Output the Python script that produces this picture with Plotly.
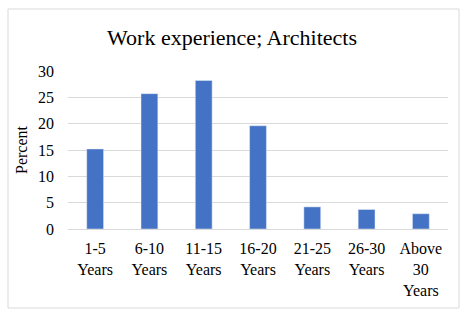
import plotly.graph_objects as go

categories = ["1-5<br>Years", "6-10<br>Years", "11-15<br>Years", "16-20<br>Years",
              "21-25<br>Years", "26-30<br>Years", "Above<br>30<br>Years"]
percent = [15.2, 25.7, 28.2, 19.6, 4.2, 3.7, 2.9]
y_ticks = [0, 5, 10, 15, 20, 25, 30]

font_family = "Liberation Serif, Times New Roman, serif"

fig = go.Figure(go.Bar(x=categories, y=percent, marker_color="#4472C4", width=0.31))

L, R, T, B = 68, 19, 71, 90
W, H = 467, 319
pw, ph = W - L - R, H - T - B

fig.update_layout(
    width=W, height=H,
    margin=dict(l=L, r=R, t=T, b=B, autoexpand=False),
    paper_bgcolor="white", plot_bgcolor="white",
    font=dict(family=font_family, color="black", size=16),
    title=dict(text="Work experience; Architects", x=232 / W, xanchor="center",
               y=1 - 37 / H, yanchor="middle", font=dict(size=22, family=font_family)),
    showlegend=False,
    xaxis=dict(showgrid=False, showline=False, ticks="", tickfont=dict(size=16),
               tickangle=0, ticklabelstandoff=8, automargin=False),
    yaxis=dict(range=[0, 30], tickvals=y_ticks, showgrid=True, gridcolor="#d9d9d9",
               gridwidth=1, zeroline=True, zerolinecolor="#d9d9d9", zerolinewidth=1,
               tickfont=dict(size=16), ticks="", ticklabelstandoff=13, automargin=False,
               title=dict(text="Percent", font=dict(size=16), standoff=6)),
    shapes=[dict(type="rect", xref="paper", yref="paper",
                 x0=(8 - L) / pw, x1=(459 - L) / pw,
                 y0=(H - B - 308) / ph, y1=(H - B - 9) / ph,
                 line=dict(color="#d9d9d9", width=1), fillcolor="rgba(0,0,0,0)", layer="below")],
)

fig.write_html("out.html", config={"displayModeBar": False},
               post_script="document.body.style.margin='0';document.body.style.overflow='hidden';")
